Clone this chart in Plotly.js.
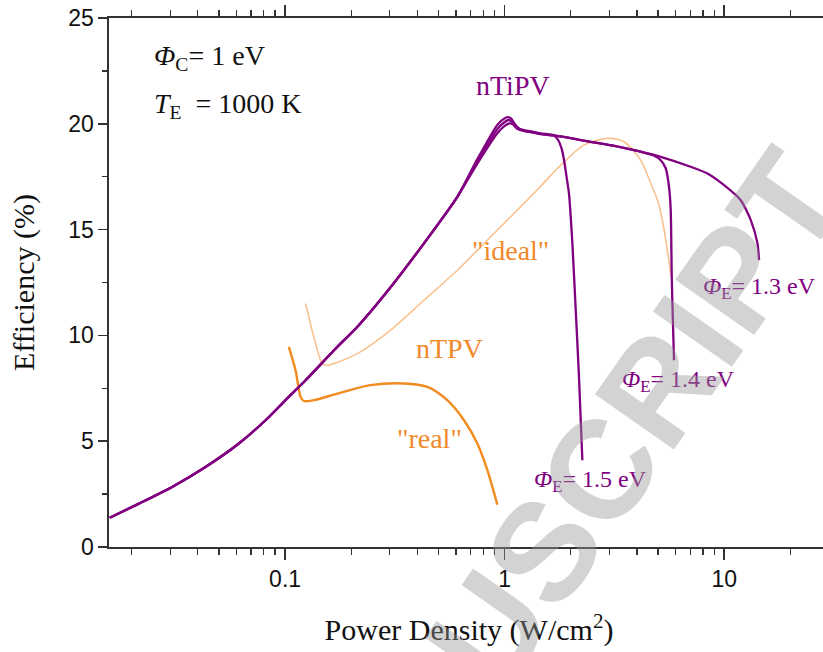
<!DOCTYPE html>
<html>
<head>
<meta charset="utf-8">
<script src="https://cdn.plot.ly/plotly-3.0.1.min.js"></script>
<style>
html,body{margin:0;padding:0;overflow:hidden;background:#fff;}
#chart{width:840px;height:652px;}
</style>
</head>
<body>
<div id="chart"></div>
<script>
// nTiPV, Phi_E = 1.5 eV
const tipv15X = [0.0159,0.0216,0.0306,0.0434,0.0616,0.0815,0.1005,0.124,0.170,0.213,0.303,0.429,0.609,0.751,0.926,0.98,1.03,1.07,1.11,1.16,1.224,1.35,1.46,1.60,1.677,1.76,1.82,1.863,1.92,1.963,2.034,2.107,2.181,2.259];
const tipv15Y = [1.38,2.05,2.84,3.78,4.89,5.99,6.94,7.88,9.38,10.40,12.29,14.35,16.55,18.33,19.95,20.2,20.32,20.25,20.0,19.78,19.70,19.62,19.55,19.5,19.45,19.2,18.8,18.3,17.4,16.7,14.35,11.2,8.0,4.1];
// nTiPV, Phi_E = 1.4 eV
const tipv14X = [0.0159,0.0216,0.0306,0.0434,0.0616,0.0815,0.1005,0.124,0.170,0.213,0.303,0.429,0.609,0.751,0.926,0.99,1.04,1.08,1.12,1.17,1.224,1.35,1.459,1.672,2.0,2.465,3.2,4.165,4.773,5.137,5.414,5.605,5.706,5.767,5.84,5.906];
const tipv14Y = [1.38,2.05,2.84,3.78,4.89,5.99,6.94,7.88,9.38,10.40,12.29,14.35,16.55,18.22,19.75,20.05,20.18,20.1,19.9,19.75,19.68,19.6,19.52,19.45,19.32,19.15,18.95,18.68,18.5,18.28,17.9,17.02,15.92,12.77,10.6,8.83];
// nTiPV, Phi_E = 1.3 eV
const tipv13X = [0.0159,0.0216,0.0306,0.0434,0.0616,0.0815,0.1005,0.124,0.170,0.213,0.303,0.429,0.609,0.751,0.926,1.0,1.05,1.09,1.13,1.18,1.224,1.35,1.459,1.672,2.0,2.465,3.2,4.165,5.137,7.03,8.385,9.98,11.89,13.21,14.17,14.41];
const tipv13Y = [1.38,2.05,2.84,3.78,4.89,5.99,6.94,7.88,9.38,10.40,12.29,14.35,16.55,18.12,19.55,19.9,20.02,19.98,19.8,19.7,19.66,19.58,19.51,19.45,19.32,19.15,18.95,18.68,18.44,17.97,17.65,17.10,16.39,15.45,14.35,13.56];
// nTPV "ideal"
const idealX = [0.124,0.1352,0.1477,0.1557,0.2133,0.3027,0.4288,0.609,0.8634,1.224,1.459,1.738,2.297,2.937,3.496,4.165,4.62,5.0,5.3,5.51,5.75];
const idealY = [11.51,9.93,8.67,8.59,9.14,10.25,11.66,13.08,14.66,16.24,17.05,17.89,18.99,19.31,19.15,18.28,17.2,16.3,15.1,14.0,12.75];
// nTPV "real"
const realX = [0.104,0.1116,0.1177,0.1218,0.1352,0.173,0.245,0.3477,0.4446,0.548,0.653,0.751,0.834,0.926];
const realY = [9.46,8.35,7.09,6.90,6.94,7.25,7.65,7.73,7.57,6.94,5.99,4.89,3.63,2.0];

const xTickVals = [0.1, 1, 10];
const xTickText = ['0.1', '1', '10'];
const yTickVals = [0, 5, 10, 15, 20, 25];

const purple = '#800080';
const orange = '#F28A1E';
const lightOrange = '#F9C28F';
const serif = 'Liberation Serif, Times New Roman, serif';
const sans = 'Liberation Sans, Arial, sans-serif';

const traces = [
  {x: idealX, y: idealY, mode: 'lines', line: {color: lightOrange, width: 1.6, shape: 'spline', smoothing: 0.8}, name: 'ideal'},
  {x: realX, y: realY, mode: 'lines', line: {color: orange, width: 2.4, shape: 'spline', smoothing: 0.8}, name: 'real'},
  {x: tipv13X, y: tipv13Y, mode: 'lines', line: {color: purple, width: 2.3, shape: 'spline', smoothing: 0.6}, name: '1.3 eV'},
  {x: tipv14X, y: tipv14Y, mode: 'lines', line: {color: purple, width: 2.3, shape: 'spline', smoothing: 0.6}, name: '1.4 eV'},
  {x: tipv15X, y: tipv15Y, mode: 'lines', line: {color: purple, width: 2.3, shape: 'spline', smoothing: 0.6}, name: '1.5 eV'}
];

const xr = [Math.log10(0.01578), Math.log10(30)];
const axCol = '#333';

const layout = {
  width: 840, height: 652,
  margin: {l: 109, r: 11, t: 18, b: 105},
  paper_bgcolor: '#fff', plot_bgcolor: '#fff',
  showlegend: false,
  font: {family: sans, color: '#111', size: 14},
  xaxis: {
    type: 'log', range: xr, showgrid: false, zeroline: false,
    showline: true, mirror: 'allticks', linecolor: axCol, linewidth: 1.6,
    ticks: 'outside', ticklen: 11, tickwidth: 1.6, tickcolor: axCol,
    tickmode: 'array', tickvals: xTickVals, ticktext: xTickText,
    tickfont: {family: sans, size: 23, color: '#111'},
    minor: {ticks: 'outside', ticklen: 6, tickwidth: 1.3, tickcolor: axCol, dtick: 'D1', showgrid: false},
    title: {text: 'Power Density (W/cm<sup>2</sup>)', font: {family: serif, size: 30, color: '#111'}, standoff: 28}
  },
  yaxis: {
    range: [0, 25], showgrid: false, zeroline: false,
    showline: true, mirror: 'allticks', linecolor: axCol, linewidth: 1.6,
    ticks: 'outside', ticklen: 9, tickwidth: 1.6, tickcolor: axCol,
    tickmode: 'array', tickvals: yTickVals,
    tickfont: {family: sans, size: 23, color: '#111'},
    minor: {ticks: 'outside', ticklen: 5, tickwidth: 1.3, tickcolor: axCol, dtick: 2.5, showgrid: false},
    title: {text: 'Efficiency (%)', font: {family: serif, size: 30, color: '#111'}, standoff: 25}
  },
  annotations: [
    {xref: 'paper', yref: 'paper', x: 0.0597, y: 0.926, xanchor: 'left', yanchor: 'middle', showarrow: false,
     text: '<i>Φ</i><sub>C</sub>= 1 eV', font: {family: serif, size: 28, color: '#111'}},
    {xref: 'paper', yref: 'paper', x: 0.0597, y: 0.8355, xanchor: 'left', yanchor: 'middle', showarrow: false,
     text: '<i>T</i><sub>E</sub>  = 1000 K', font: {family: serif, size: 28, color: '#111'}},
    {xref: 'paper', yref: 'paper', x: 0.561, y: 0.8733, xanchor: 'center', yanchor: 'middle', showarrow: false,
     text: 'nTiPV', font: {family: serif, size: 28, color: purple}},
    {xref: 'paper', yref: 'paper', x: 0.557, y: 0.5614, xanchor: 'center', yanchor: 'middle', showarrow: false,
     text: '"ideal"', font: {family: serif, size: 28, color: '#F0892A'}},
    {xref: 'paper', yref: 'paper', x: 0.4736, y: 0.3743, xanchor: 'center', yanchor: 'middle', showarrow: false,
     text: 'nTPV', font: {family: serif, size: 28, color: '#F0892A'}},
    {xref: 'paper', yref: 'paper', x: 0.4458, y: 0.206, xanchor: 'center', yanchor: 'middle', showarrow: false,
     text: '"real"', font: {family: serif, size: 28, color: '#F0892A'}},
    {xref: 'paper', yref: 'paper', x: 0.8222, y: 0.4896, xanchor: 'left', yanchor: 'middle', showarrow: false,
     text: '<i>Φ</i><sub>E</sub>= 1.3 eV', font: {family: serif, size: 24, color: purple}},
    {xref: 'paper', yref: 'paper', x: 0.7097, y: 0.3138, xanchor: 'left', yanchor: 'middle', showarrow: false,
     text: '<i>Φ</i><sub>E</sub>= 1.4 eV', font: {family: serif, size: 24, color: purple}},
    {xref: 'paper', yref: 'paper', x: 0.5875, y: 0.1248, xanchor: 'left', yanchor: 'middle', showarrow: false,
     text: '<i>Φ</i><sub>E</sub>= 1.5 eV', font: {family: serif, size: 24, color: purple}},
    {xref: 'paper', yref: 'paper', x: 0.604, y: -0.006, xanchor: 'center', yanchor: 'middle', showarrow: false,
     text: '<b>MANUSCRIPT</b>', textangle: -55, font: {family: sans, size: 140, color: 'rgba(150,150,150,0.42)'}}
  ]
};

Plotly.newPlot('chart', traces, layout, {staticPlot: true, displayModeBar: false});
</script>
</body>
</html>
